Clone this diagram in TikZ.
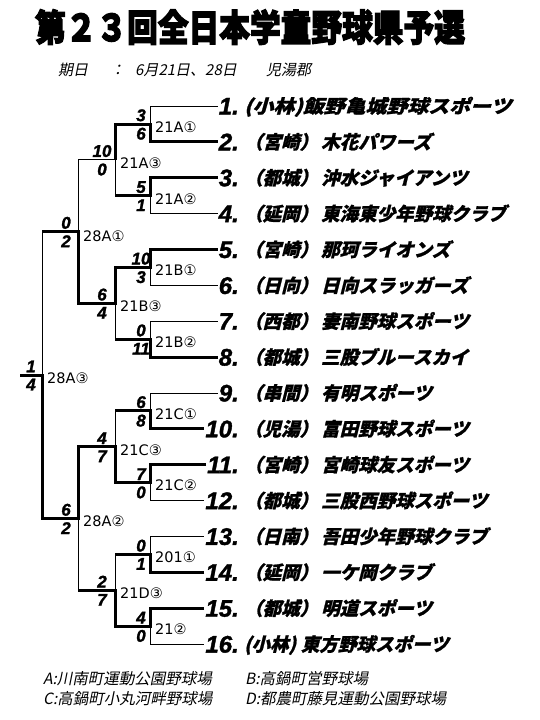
\documentclass[tikz,border=0pt]{standalone}
\usepackage{fontspec}
\newfontfamily\jp{Noto Sans CJK JP}
\newfontfamily\jpsl{Noto Sans CJK JP}[FakeSlant=0.2]
\newfontfamily\jpbsl{Noto Sans CJK JP}[FakeSlant=0.25,FakeBold=1.2]
\newfontfamily\numfont{Liberation Sans}[FakeBold=1.5]
\newfontfamily\lblfont{DejaVu Sans}
\newfontfamily\jptitle{Noto Sans CJK JP}[FakeBold=3.5]
\begin{document}
\begin{tikzpicture}[x=1pt,y=-1pt,
  lnthin/.style={line width=1pt},
  lnwin/.style={line width=3pt,line join=miter},
  numst/.style={font=\numfont\bfseries\itshape\fontsize{24}{24}\selectfont,anchor=base east,inner sep=1pt},
  namest/.style={font=\jpbsl\bfseries\fontsize{18.5}{20}\selectfont,anchor=base west,inner sep=0pt},
  scst/.style={font=\numfont\bfseries\itshape\fontsize{17}{17}\selectfont,inner sep=0pt},
  mst/.style={font=\lblfont\fontsize{14.5}{15}\selectfont,anchor=west,inner sep=0pt},
  subst/.style={font=\jpsl\fontsize{15}{16}\selectfont,anchor=west,inner sep=0pt},
  footst/.style={font=\jpsl\fontsize{15.5}{16}\selectfont,anchor=west,inner sep=0pt}]
\fill[white] (0,0) rectangle (540,720);
\useasboundingbox (0,0) rectangle (540,720);

% title
\node[font=\jptitle\bfseries\fontsize{30.7}{32}\selectfont,inner sep=0pt] (title) at (250,27) {\scalebox{1}[1.2]{第２３回全日本学童野球県予選}};
\node[subst] (sub1) at (58,70) {期日};
\node[subst] (sub2) at (110,70) {：};
\node[subst] (sub3) at (135,70) {6月21日、28日};
\node[subst] (sub4) at (266,70) {児湯郡};

% team labels
\node[numst] (n1) at (240,114.5) {1.};
\node[namest] (t1) at (244,113.0) {\scalebox{1.13}[1]{(小林)飯野亀城野球スポーツ}};
\node[numst] (n2) at (240,150.4) {2.};
\node[namest] (t2) at (244,148.9) {（宮崎）\hspace{3pt}木花パワーズ};
\node[numst] (n3) at (240,186.2) {3.};
\node[namest] (t3) at (244,184.7) {（都城）\hspace{3pt}沖水ジャイアンツ};
\node[numst] (n4) at (240,222.1) {4.};
\node[namest] (t4) at (244,220.6) {（延岡）\hspace{3pt}東海東少年野球クラブ};
\node[numst] (n5) at (240,258.0) {5.};
\node[namest] (t5) at (244,256.5) {（宮崎）\hspace{3pt}那珂ライオンズ};
\node[numst] (n6) at (240,293.9) {6.};
\node[namest] (t6) at (244,292.4) {（日向）\hspace{3pt}日向スラッガーズ};
\node[numst] (n7) at (240,329.7) {7.};
\node[namest] (t7) at (244,328.2) {（西都）\hspace{3pt}妻南野球スポーツ};
\node[numst] (n8) at (240,365.6) {8.};
\node[namest] (t8) at (244,364.1) {（都城）\hspace{3pt}三股ブルースカイ};
\node[numst] (n9) at (240,401.5) {9.};
\node[namest] (t9) at (244,400.0) {（串間）\hspace{3pt}有明スポーツ};
\node[numst] (n10) at (240,437.3) {10.};
\node[namest] (t10) at (244,435.8) {（児湯）\hspace{3pt}富田野球スポーツ};
\node[numst] (n11) at (240,473.2) {11.};
\node[namest] (t11) at (244,471.7) {（宮崎）\hspace{3pt}宮崎球友スポーツ};
\node[numst] (n12) at (240,509.1) {12.};
\node[namest] (t12) at (244,507.6) {（都城）\hspace{3pt}三股西野球スポーツ};
\node[numst] (n13) at (240,544.9) {13.};
\node[namest] (t13) at (244,543.4) {（日南）\hspace{3pt}吾田少年野球クラブ};
\node[numst] (n14) at (240,580.8) {14.};
\node[namest] (t14) at (244,579.3) {（延岡）\hspace{3pt}一ケ岡クラブ};
\node[numst] (n15) at (240,616.7) {15.};
\node[namest] (t15) at (244,615.2) {（都城）\hspace{3pt}明道スポーツ};
\node[numst] (n16) at (240,652.6) {16.};
\node[namest] (t16) at (244,651.1) {(小林)\hspace{5pt}東方野球スポーツ};

% coordinates
\coordinate (p1) at (150,106.0);
\coordinate (p2) at (150,141.9);
\coordinate (p3) at (150,177.7);
\coordinate (p4) at (150,213.6);
\coordinate (p5) at (150,249.5);
\coordinate (p6) at (150,285.4);
\coordinate (p7) at (150,321.2);
\coordinate (p8) at (150,357.1);
\coordinate (p9) at (150,393.0);
\coordinate (p10) at (150,428.8);
\coordinate (p11) at (150,464.7);
\coordinate (p12) at (150,500.6);
\coordinate (p13) at (150,536.4);
\coordinate (p14) at (150,572.3);
\coordinate (p15) at (150,608.2);
\coordinate (p16) at (150,644.1);
\coordinate (q1) at (150,124.0); \coordinate (a1) at (115,124.0);
\coordinate (q2) at (150,195.7); \coordinate (a2) at (115,195.7);
\coordinate (q3) at (150,267.4); \coordinate (a3) at (115,267.4);
\coordinate (q4) at (150,339.2); \coordinate (a4) at (115,339.2);
\coordinate (q5) at (150,410.9); \coordinate (a5) at (115,410.9);
\coordinate (q6) at (150,482.7); \coordinate (a6) at (115,482.7);
\coordinate (q7) at (150,554.4); \coordinate (a7) at (115,554.4);
\coordinate (q8) at (150,626.2); \coordinate (a8) at (115,626.2);
\coordinate (b1) at (115,159.8); \coordinate (bl1) at (78,159.8);
\coordinate (b2) at (115,303.3); \coordinate (bl2) at (78,303.3);
\coordinate (b3) at (115,446.8); \coordinate (bl3) at (78,446.8);
\coordinate (b4) at (115,590.3); \coordinate (bl4) at (78,590.3);
\coordinate (c1) at (78,231.6); \coordinate (cl1) at (42,231.6);
\coordinate (c2) at (78,518.5); \coordinate (cl2) at (42,518.5);
\coordinate (f) at (42,375.0); \coordinate (fl) at (20,375.0);

% thin bracket
\foreach \i in {1,...,16} \draw[lnthin] (p\i) -- (p\i -| n\i.west);
\foreach \a/\b in {1/2,3/4,5/6,7/8,9/10,11/12,13/14,15/16} \draw[lnthin] (p\a) -- (p\b);
\foreach \k in {1,...,8} \draw[lnthin] (q\k) -- (a\k);
\foreach \a/\b in {1/2,3/4,5/6,7/8} \draw[lnthin] (a\a) -- (a\b);
\foreach \j in {1,...,4} \draw[lnthin] (b\j) -- (bl\j);
\draw[lnthin] (bl1) -- (bl2);
\draw[lnthin] (bl3) -- (bl4);
\draw[lnthin] (c1) -- (cl1);
\draw[lnthin] (c2) -- (cl2);
\draw[lnthin] (cl1) -- (cl2);
\draw[lnthin] (f) -- (fl);

% winners
\draw[lnwin] (p2 -| n2.west) -- (p2) -- (q1) -- (a1) -- (b1);
\draw[lnwin] (p3 -| n3.west) -- (p3) -- (q2) -- (a2);
\draw[lnwin] (p5 -| n5.west) -- (p5) -- (q3) -- (a3) -- (b2) -- (bl2) -- (c1) -- (cl1);
\draw[lnwin] (p8 -| n8.west) -- (p8) -- (q4) -- (a4);
\draw[lnwin] (p10 -| n10.west) -- (p10) -- (q5) -- (a5);
\draw[lnwin] (p11 -| n11.west) -- (p11) -- (q6) -- (a6) -- (b3) -- (bl3) -- (c2) -- (cl2) -- (f) -- (fl);
\draw[lnwin] (p14 -| n14.west) -- (p14) -- (q7) -- (a7);
\draw[lnwin] (p15 -| n15.west) -- (p15) -- (q8) -- (a8) -- (b4) -- (bl4);

% scores round 1
\node[scst,anchor=south] (s1a) at (141,121.5) {3};
\node[scst,anchor=north] (s1b) at (141,127.5) {6};
\node[scst,anchor=south] (s2a) at (141,193.2) {5};
\node[scst,anchor=north] (s2b) at (141,199.2) {1};
\node[scst,anchor=south] (s3a) at (141,264.9) {10};
\node[scst,anchor=north] (s3b) at (141,270.9) {3};
\node[scst,anchor=south] (s4a) at (141,336.7) {0};
\node[scst,anchor=north] (s4b) at (141,342.7) {11};
\node[scst,anchor=south] (s5a) at (141,408.4) {6};
\node[scst,anchor=north] (s5b) at (141,414.4) {8};
\node[scst,anchor=south] (s6a) at (141,480.2) {7};
\node[scst,anchor=north] (s6b) at (141,486.2) {0};
\node[scst,anchor=south] (s7a) at (141,551.9) {0};
\node[scst,anchor=north] (s7b) at (141,557.9) {1};
\node[scst,anchor=south] (s8a) at (141,623.7) {4};
\node[scst,anchor=north] (s8b) at (141,629.7) {0};
% scores round 2
\node[scst,anchor=south] (r1a) at (102,157.3) {10};
\node[scst,anchor=north] (r1b) at (102,163.3) {0};
\node[scst,anchor=south] (r2a) at (102,300.8) {6};
\node[scst,anchor=north] (r2b) at (102,306.8) {4};
\node[scst,anchor=south] (r3a) at (102,444.3) {4};
\node[scst,anchor=north] (r3b) at (102,450.3) {7};
\node[scst,anchor=south] (r4a) at (102,587.8) {2};
\node[scst,anchor=north] (r4b) at (102,593.8) {7};
% scores round 3 and final
\node[scst,anchor=south] (u1a) at (66,229.1) {0};
\node[scst,anchor=north] (u1b) at (66,235.1) {2};
\node[scst,anchor=south] (u2a) at (66,516.0) {6};
\node[scst,anchor=north] (u2b) at (66,522.0) {2};
\node[scst,anchor=south] (fa) at (31,372.5) {1};
\node[scst,anchor=north] (fb) at (31,378.5) {4};

% match labels
\node[mst] (m1) at (155,127.0) {21A①};
\node[mst] (m2) at (155,198.7) {21A②};
\node[mst] (m3) at (155,270.4) {21B①};
\node[mst] (m4) at (155,342.2) {21B②};
\node[mst] (m5) at (155,413.9) {21C①};
\node[mst] (m6) at (155,485.7) {21C②};
\node[mst] (m7) at (155,557.4) {201①};
\node[mst] (m8) at (155,629.2) {21②};
\node[mst] (m9) at (120,162.8) {21A③};
\node[mst] (m10) at (120,306.3) {21B③};
\node[mst] (m11) at (120,449.8) {21C③};
\node[mst] (m12) at (120,593.3) {21D③};
\node[mst] (m13) at (83,236.6) {28A①};
\node[mst] (m14) at (83,521.5) {28A②};
\node[mst] (m15) at (47,378.5) {28A③};

% footer
\node[footst] (fa1) at (43,679) {A:川南町運動公園野球場};
\node[footst] (fb1) at (245,679) {B:高鍋町営野球場};
\node[footst] (fc1) at (43,699) {C:高鍋町小丸河畔野球場};
\node[footst] (fd1) at (245,699) {D:都農町藤見運動公園野球場};
\end{tikzpicture}
\end{document}
